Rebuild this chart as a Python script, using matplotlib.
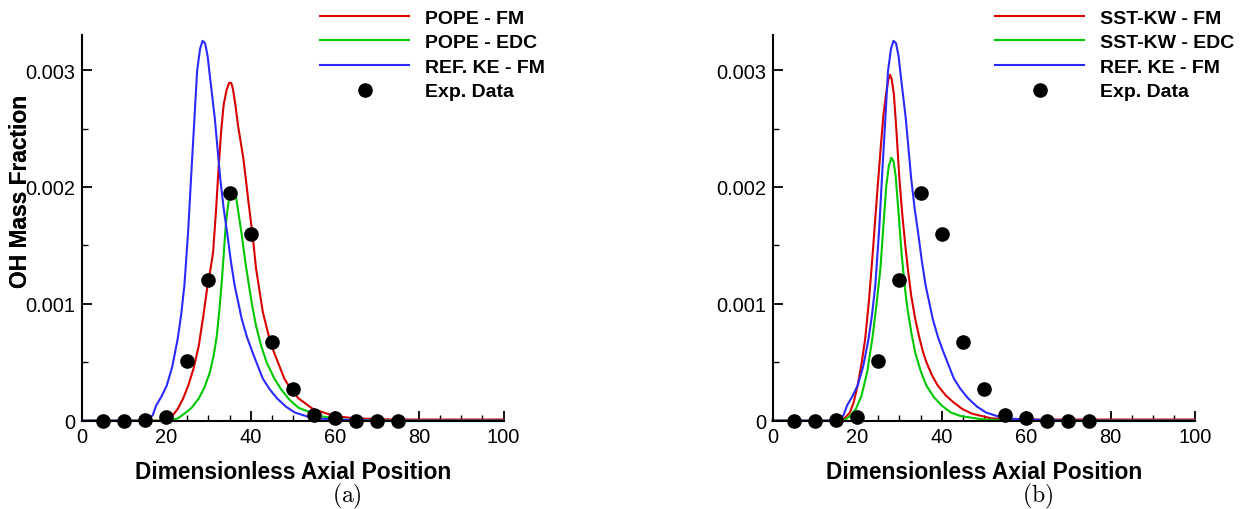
import numpy as np
import matplotlib
matplotlib.use('Agg')
import matplotlib.pyplot as plt
from matplotlib.ticker import MultipleLocator

plt.rcParams['font.family'] = ['Liberation Sans', 'DejaVu Sans']
plt.rcParams['mathtext.fontset'] = 'cm'

# Datos experimentales (iguales en ambas figuras)
x_exp = [5, 10, 15, 20, 25, 30, 35, 40, 45, 50, 55, 60, 65, 70, 75]
y_exp = [0.0, 0.0, 0.00001, 0.00003, 0.000514, 0.0012, 0.00195, 0.0016,
         0.00067, 0.00027, 0.00005, 0.00002, 0.0, 0.0, 0.0]

# REF. KE - FM (igual en ambas figuras)
x_ref = [0, 10, 15.0, 15.9, 16.8, 17.6, 18.9, 20.1, 21.4, 22.7, 23.5, 24.3,
         25.2, 26.0, 26.7, 27.3, 28.0, 28.6, 29.2, 29.8, 30.3, 31.5, 32.8,
         33.6, 34.5, 35.3, 36.2, 37.9, 39.1, 40.4, 42.9, 44.5, 46.3, 48.4,
         50.5, 54.8, 60.7, 70, 100]
y_ref = [0.0, 0.0, 0.0, 0.00001, 0.00005, 0.00013, 0.00021, 0.0003, 0.00046,
         0.0007, 0.0009, 0.00116, 0.00163, 0.00216, 0.0026, 0.00299, 0.00318,
         0.00325, 0.00323, 0.00312, 0.00296, 0.00259, 0.00207, 0.00182,
         0.00159, 0.00137, 0.00116, 0.00087, 0.00072, 0.00059, 0.00036,
         0.00027, 0.00019, 0.00012, 0.00007, 0.00002, 0.00001, 0.0, 0.0]

# (a) POPE - FM
x_pope_fm = [0, 10, 20.1, 21.4, 22.7, 24.0, 25.2, 26.5, 27.7, 28.8, 29.8,
             30.5, 31.1, 31.8, 32.4, 33.0, 33.6, 34.3, 34.9, 35.4, 35.8, 36.4,
             37.0, 38.3, 39.6, 40.5, 41.3, 42.9, 44.2, 45.5, 48.0, 49.7, 51.4,
             54.8, 59.8, 64.9, 73.4, 100]
y_pope_fm = [0.0, 0.0, 0.0, 0.00004, 0.0001, 0.00019, 0.0003, 0.00045,
             0.00064, 0.0009, 0.00116, 0.0013, 0.00144, 0.0018, 0.00216,
             0.00247, 0.0027, 0.00283, 0.00289, 0.00289, 0.00284, 0.0027,
             0.00253, 0.00224, 0.00184, 0.00158, 0.0013, 0.00093, 0.00074,
             0.00059, 0.00036, 0.00026, 0.00019, 0.0001, 0.00004, 0.00002,
             0.00001, 0.00001]

# (a) POPE - EDC
x_pope_edc = [0, 10, 21.0, 22.7, 24.3, 26.0, 27.7, 29.0, 30.3, 31.2, 32.0,
              32.6, 33.2, 33.7, 34.1, 34.5, 34.9, 35.4, 35.8, 36.2, 36.6,
              37.2, 37.9, 38.7, 39.6, 40.4, 41.3, 42.5, 43.8, 45.5, 47.2,
              49.2, 51.4, 56.5, 61.5, 70, 100]
y_pope_edc = [0.0, 0.0, 0.0, 0.00002, 0.00006, 0.00011, 0.00019, 0.00028,
              0.00041, 0.00055, 0.00073, 0.00095, 0.00121, 0.00146, 0.00167,
              0.0018, 0.0019, 0.00195, 0.00197, 0.00195, 0.0019, 0.00176,
              0.00159, 0.00137, 0.00116, 0.00098, 0.00081, 0.00064, 0.0005,
              0.00037, 0.00027, 0.00018, 0.00011, 0.00004, 0.00001, 0.0, 0.0]

# (b) SST-KW - FM
x_sst_fm = [0, 10, 15.5, 17.0, 18.3, 19.2, 20.1, 21.0, 21.9, 22.8, 23.7,
            24.6, 25.5, 26.2, 26.9, 27.4, 27.8, 28.2, 28.7, 29.3, 30.0, 30.7,
            31.4, 32.1, 32.8, 33.7, 34.6, 35.5, 36.4, 37.7, 39.1, 40.9, 42.7,
            44.9, 47.2, 51.8, 60, 100]
y_sst_fm = [0.0, 0.0, 0.0, 0.00002, 0.00007, 0.00016, 0.0003, 0.00048,
            0.0007, 0.00103, 0.00144, 0.00188, 0.0023, 0.00261, 0.00281,
            0.00292, 0.00296, 0.00292, 0.00279, 0.00248, 0.00207, 0.00176,
            0.0015, 0.00127, 0.00107, 0.00088, 0.00073, 0.0006, 0.0005,
            0.00039, 0.0003, 0.00022, 0.00016, 0.0001, 0.00006, 0.00002,
            0.00001, 0.00001]

# (b) SST-KW - EDC
x_sst_edc = [0, 10, 16.0, 17.2, 18.3, 19.7, 21.0, 22.4, 23.7, 24.6, 25.5,
             26.2, 26.9, 27.5, 28.1, 28.6, 29.1, 29.8, 30.5, 31.2, 31.9,
             32.8, 33.7, 35.0, 36.4, 38.2, 40.0, 42.2, 44.5, 50.0, 60, 100]
y_sst_edc = [0.0, 0.0, 0.0, 0.00001, 0.00004, 0.0001, 0.00021, 0.00042,
             0.00073, 0.001, 0.0013, 0.00166, 0.00201, 0.00218, 0.00225,
             0.00222, 0.0021, 0.00178, 0.00144, 0.00117, 0.00096, 0.00076,
             0.00059, 0.00043, 0.0003, 0.0002, 0.00013, 0.00007, 0.00004,
             0.00001, 0.0, 0.0]

rojo = '#d80000'
verde = '#00c800'
azul = '#2a2aff'

W, H = 1243, 510
fig = plt.figure(figsize=(W / 100, H / 100), dpi=100)

# posiciones de los ejes en pixeles: (izquierda, derecha)
paneles = [
    (82, 503.5, 'POPE', x_pope_fm, y_pope_fm, x_pope_edc, y_pope_edc, '(a)', 320),
    (772.7, 1195, 'SST-KW', x_sst_fm, y_sst_fm, x_sst_edc, y_sst_edc, '(b)', 995),
]
bottom_px, top_px = 421.7, 36

for (l, r, nombre, xf, yf, xe, ye, letra, xleg) in paneles:
    ax = fig.add_axes([l / W, 1 - bottom_px / H, (r - l) / W, (bottom_px - top_px) / H])

    ax.plot(xf, yf, color=rojo, lw=1.5, label=nombre + ' - FM', clip_on=False)
    ax.plot(xe, ye, color=verde, lw=1.5, label=nombre + ' - EDC', clip_on=False)
    ax.plot(x_ref, y_ref, color=azul, lw=1.5, label='REF. KE - FM', clip_on=False)
    ax.plot(x_exp, y_exp, 'o', color='black', ms=9.5, label='Exp. Data',
            clip_on=False, zorder=5)

    ax.set_xlim(0, 100)
    ax.set_ylim(0, 0.0033)
    ax.spines['top'].set_visible(False)
    ax.spines['right'].set_visible(False)
    ax.spines['left'].set_linewidth(1.5)
    ax.spines['bottom'].set_linewidth(1.5)

    ax.set_xticks([0, 20, 40, 60, 80, 100])
    ax.xaxis.set_minor_locator(MultipleLocator(5))
    ax.set_yticks([0, 0.001, 0.002, 0.003], ['0', '0.001', '0.002', '0.003'])
    ax.yaxis.set_minor_locator(MultipleLocator(0.0005))
    ax.tick_params(which='major', direction='in', length=7.5, width=1.3,
                   labelsize=14.4, pad=4.5)
    ax.tick_params(which='minor', direction='in', length=4.3, width=1.0)

    ax.set_xlabel('Dimensionless Axial Position', fontsize=16.4,
                  fontweight='bold', labelpad=10)
    ax.set_ylabel('OH Mass Fraction', fontsize=16.4, fontweight='bold')
    ax.yaxis.set_label_coords(-(l - 32) / (r - l), (bottom_px - 191) / (bottom_px - top_px))

    ax.legend(loc='upper left', bbox_to_anchor=(xleg / W, 1 - 10 / H),
              bbox_transform=fig.transFigure, frameon=False, borderpad=0,
              borderaxespad=0, handlelength=4.6, handletextpad=0.8,
              labelspacing=0.36, numpoints=1,
              prop={'weight': 'bold', 'size': 14})

    # etiqueta de subfigura
    fig.text((l + r) / 2 / W + 54 / W, 1 - 496 / H, r'$\mathrm{' + letra + '}$',
             fontsize=17, ha='center', va='center')

fig.savefig('out.png', dpi=100)
